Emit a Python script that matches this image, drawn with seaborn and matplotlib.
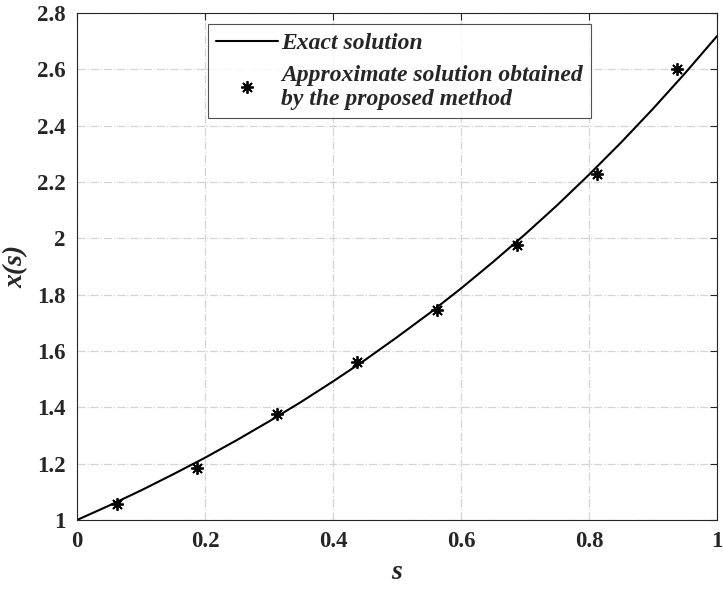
import matplotlib
matplotlib.use("Agg")
import matplotlib.pyplot as plt
import seaborn as sns
import pandas as pd

# exact solution
s_exact = [0.00, 0.05, 0.10, 0.15, 0.20, 0.25, 0.30, 0.35, 0.40, 0.45, 0.50,
           0.55, 0.60, 0.65, 0.70, 0.75, 0.80, 0.85, 0.90, 0.95, 1.00]
x_exact = [1.000, 1.051, 1.105, 1.162, 1.221, 1.284, 1.350, 1.419, 1.492, 1.568, 1.649,
           1.733, 1.822, 1.916, 2.014, 2.117, 2.226, 2.340, 2.460, 2.586, 2.718]

# approximate solution (asterisks)
s_approx = [0.0625, 0.1875, 0.3125, 0.4375, 0.5625, 0.6875, 0.8125, 0.9375]
x_approx = [1.056, 1.186, 1.376, 1.562, 1.745, 1.976, 2.230, 2.600]

x_ticks = [0, 0.2, 0.4, 0.6, 0.8, 1]
y_ticks = [1, 1.2, 1.4, 1.6, 1.8, 2, 2.2, 2.4, 2.6, 2.8]
tick_labels_x = ["0", "0.2", "0.4", "0.6", "0.8", "1"]
tick_labels_y = ["1", "1.2", "1.4", "1.6", "1.8", "2", "2.2", "2.4", "2.6", "2.8"]

sns.set_theme(style="white")
plt.rcParams['font.family'] = ['Liberation Serif', 'DejaVu Serif']

df_exact = pd.DataFrame({'s': s_exact, 'x': x_exact})
df_approx = pd.DataFrame({'s': s_approx, 'x': x_approx})

fig = plt.figure(figsize=(7.23, 5.89), dpi=100)
ax = fig.add_axes([77 / 723, 1 - 520 / 589, 640 / 723, 507 / 589])

sns.lineplot(data=df_exact, x='s', y='x', ax=ax, color='black', linewidth=1.5,
             label='Exact solution')
ax.plot(df_approx['s'], df_approx['x'], linestyle='none', marker=(8, 2, 0),
        markersize=9, markeredgewidth=1.3, color='black',
        label='Approximate solution obtained\nby the proposed method')

ax.set_xlim(0, 1)
ax.set_ylim(1, 2.8)
ax.set_xticks(x_ticks)
ax.set_xticklabels(tick_labels_x)
ax.set_yticks(y_ticks)
ax.set_yticklabels(tick_labels_y)
ax.tick_params(direction='in', length=5, width=0.8, top=True, right=True,
               labelsize=16.5, colors='#262626', pad=8)
for lab in ax.get_xticklabels() + ax.get_yticklabels():
    lab.set_fontweight('bold')
    lab.set_color('#262626')

ax.grid(True, linestyle='-.', color='#d4d4d4', linewidth=0.9)
for sp in ax.spines.values():
    sp.set_color('#262626')
    sp.set_linewidth(0.8)

ax.set_xlabel('s', fontsize=20, fontweight='bold', fontstyle='italic', labelpad=6)
ax.set_ylabel('x(s)', fontsize=20, fontweight='bold', fontstyle='italic', labelpad=6)

leg = ax.legend(loc='upper left', bbox_to_anchor=(0.205, 0.978), frameon=True,
                fancybox=False, edgecolor='#262626', handlelength=2.6,
                handletextpad=0.15, borderpad=0.35, labelspacing=0.45,
                borderaxespad=0.0,
                prop={'size': 17, 'weight': 'bold', 'style': 'italic'})
leg.get_frame().set_linewidth(0.8)

fig.savefig('out.png', dpi=100)
